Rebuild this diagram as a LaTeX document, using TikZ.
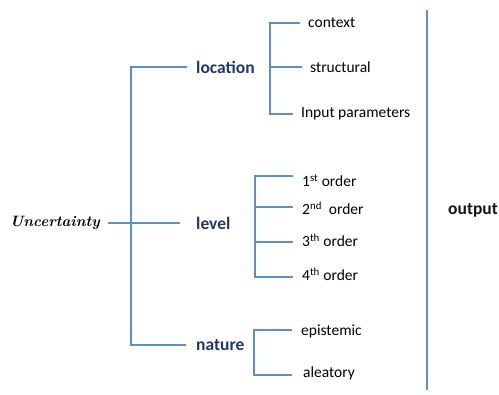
\documentclass[tikz,border=0pt]{standalone}
\usepackage{fontspec}
\setmainfont{Carlito}
\newfontfamily\lmfam{Latin Modern Roman}
\definecolor{lnblue}{RGB}{94,142,199}
\definecolor{navy}{RGB}{31,56,100}
\definecolor{outk}{RGB}{20,20,20}
\begin{document}
\begin{tikzpicture}[x=1pt,y=-1pt,
  ln/.style={draw=lnblue,line width=2.4pt},
  txt/.style={inner sep=0pt,anchor=west,font=\fontsize{15.5}{18}\selectfont},
  bt/.style={inner sep=0pt,anchor=west,text=navy,font=\fontsize{17.5}{20}\selectfont\bfseries},
  unct/.style={inner sep=0pt,anchor=west,font=\fontsize{15}{18}\selectfont\lmfam\bfseries\itshape}]
\useasboundingbox (0,0) rectangle (499,395);
% main level
\node[unct] (unc) at (10,223) {Uncertainty};
\node[bt] (loc) at (196,67) {location};
\node[bt] (lev) at (196,223) {level};
\node[bt] (nat) at (196,345) {nature};
\coordinate (mcol) at (131,66);
\draw[ln] ([xshift=-9pt]loc.west) -| (mcol |- nat.west) -- ([xshift=-10pt]nat.west);
\draw[ln] ([xshift=8pt]unc.east) -- ([xshift=-16pt]lev.west);
% location branch
\node[txt] (ctx) at (308,23) {context};
\node[txt] (str) at (310,67) {structural};
\node[txt] (inp) at (301,114) {Input parameters};
\coordinate (lcol) at (270,23);
\draw[ln] ([xshift=-8pt]ctx.west) -| (lcol |- inp.west) -- ([xshift=-8pt]inp.west);
\draw[ln] (lcol |- str.west) -- ([xshift=-8pt]str.west);
% level branch
\node[txt] (o1) at (302,181) {1\textsuperscript{st} order};
\node[txt] (o2) at (302,208) {2\textsuperscript{nd}\ \ order};
\node[txt] (o3) at (302,240) {3\textsuperscript{th} order};
\node[txt] (o4) at (302,274) {4\textsuperscript{th} order};
\coordinate (v1) at (255,176);
\coordinate (v2) at (255,207);
\coordinate (v3) at (255,242);
\coordinate (v4) at (255,277);
\coordinate (e1) at (293,176);
\coordinate (e2) at (293,207);
\coordinate (e3) at (293,242);
\coordinate (e4) at (293,277);
\draw[ln] (e1) -- (v1) -- (v4) -- (e4);
\draw[ln] (v2) -- (e2);
\draw[ln] (v3) -- (e3);
% nature branch
\node[txt] (epi) at (301,331) {epistemic};
\node[txt] (ale) at (303,373) {aleatory};
\coordinate (n1) at (254,330);
\coordinate (n2) at (254,375);
\coordinate (f1) at (292,330);
\coordinate (f2) at (292,375);
\draw[ln] (f1) -- (n1) -- (n2) -- (f2);
% output bracket
\node[inner sep=0pt,anchor=west,text=outk,font=\fontsize{17.5}{20}\selectfont\bfseries] (out) at (448,210) {output};
\coordinate (r1) at (427,10);
\coordinate (r2) at (427,390);
\draw[ln] (r1) -- (r2);
\end{tikzpicture}
\end{document}
